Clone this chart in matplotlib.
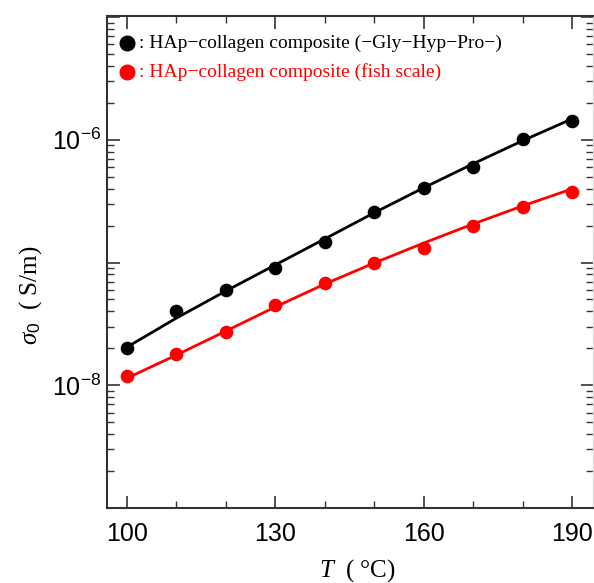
import matplotlib
matplotlib.use("Agg")
import matplotlib.pyplot as plt
import numpy as np
from matplotlib.ticker import LogLocator, FixedLocator, FuncFormatter, NullFormatter

plt.rcParams['mathtext.fontset'] = 'custom'
plt.rcParams['mathtext.rm'] = 'Liberation Sans'
plt.rcParams['mathtext.it'] = 'Liberation Serif:italic'
plt.rcParams['mathtext.default'] = 'regular'

# temperature (degC)
T = [100, 110, 120, 130, 140, 150, 160, 170, 180, 190]

# measured sigma_0 (S/m)
sig_gly = [2.0e-8, 4.0e-8, 6.0e-8, 9.0e-8, 1.48e-7, 2.6e-7, 4.04e-7, 6.05e-7, 1.01e-6, 1.41e-6]
sig_fish = [1.19e-8, 1.79e-8, 2.72e-8, 4.5e-8, 6.76e-8, 1.0e-7, 1.31e-7, 2.0e-7, 2.82e-7, 3.74e-7]

# fitted curves
fit_gly = [2.04e-8, 3.52e-8, 5.85e-8, 9.55e-8, 1.556e-7, 2.54e-7, 4.06e-7, 6.37e-7, 9.82e-7, 1.48e-6]
fit_fish = [1.14e-8, 1.76e-8, 2.76e-8, 4.34e-8, 6.67e-8, 9.91e-8, 1.44e-7, 2.06e-7, 2.89e-7, 3.98e-7]

labels = [": HAp\u2212collagen composite (\u2212Gly\u2212Hyp\u2212Pro\u2212)",
          ": HAp\u2212collagen composite (fish scale)"]

fig = plt.figure(figsize=(5.94, 5.83), dpi=100)
ax = fig.add_axes([0.180, 0.1286, 0.818, 0.844])

ax.plot(T, fit_gly, color="black", lw=2, zorder=2)
ax.plot(T, fit_fish, color="#ff0000", lw=2, zorder=2)
ax.plot(T, sig_gly, "o", color="black", ms=8.8, zorder=3)
ax.plot(T, sig_fish, "o", color="#ff0000", ms=8.8, zorder=3)

ax.set_yscale("log")
ax.set_xlim(96, 194.2)
ax.set_ylim(1e-9, 1.02e-5)

ax.xaxis.set_major_locator(FixedLocator([100, 130, 160, 190]))
ax.xaxis.set_minor_locator(FixedLocator([110, 120, 140, 150, 170, 180]))
ax.yaxis.set_major_locator(LogLocator(base=10, numticks=20))
ax.yaxis.set_minor_locator(LogLocator(base=10, subs=np.arange(2, 10), numticks=20))

def ylab(v, pos):
    e = int(round(np.log10(v)))
    if e in (-6, -8):
        return r"$10^{%d}$" % e
    return ""

ax.yaxis.set_major_formatter(FuncFormatter(ylab))
ax.yaxis.set_minor_formatter(NullFormatter())

ax.tick_params(which="both", direction="in", top=True, right=True, colors="#333333",
               labelcolor="black", labelsize=18)
ax.tick_params(which="major", length=9, width=1.2)
ax.tick_params(which="minor", length=5, width=1.0)
ax.tick_params(axis="x", pad=10)
ax.tick_params(axis="y", pad=4)
for lab in ax.get_xticklabels() + ax.get_yticklabels():
    lab.set_family("Liberation Sans")

for s in ["left", "bottom", "top"]:
    ax.spines[s].set_color("#333333")
    ax.spines[s].set_linewidth(1.5)
ax.spines["right"].set_color("#dddddd")
ax.spines["right"].set_linewidth(1.0)

# legend drawn by hand
cols = ["black", "#ff0000"]
for i, (lab, c) in enumerate(zip(labels, cols)):
    yy = 0.945 - i * 0.059
    ax.plot([0.041], [yy], "o", color=c, ms=10.5, transform=ax.transAxes, clip_on=False)
    ax.text(0.066, yy, lab, color=c, transform=ax.transAxes, fontsize=14,
            family="Liberation Serif", va="center", ha="left")

fig.text(0.052, 0.494, r"$\mathit{\sigma}_{\mathit{0}}$  ( S/m)", rotation=90, ha="center", va="center",
         fontsize=18, family="Liberation Serif")
fig.text(0.601, 0.022, r"$\mathit{T}$  ( °C)", ha="center", va="center",
         fontsize=18, family="Liberation Serif")

fig.savefig("out.png", dpi=100)
